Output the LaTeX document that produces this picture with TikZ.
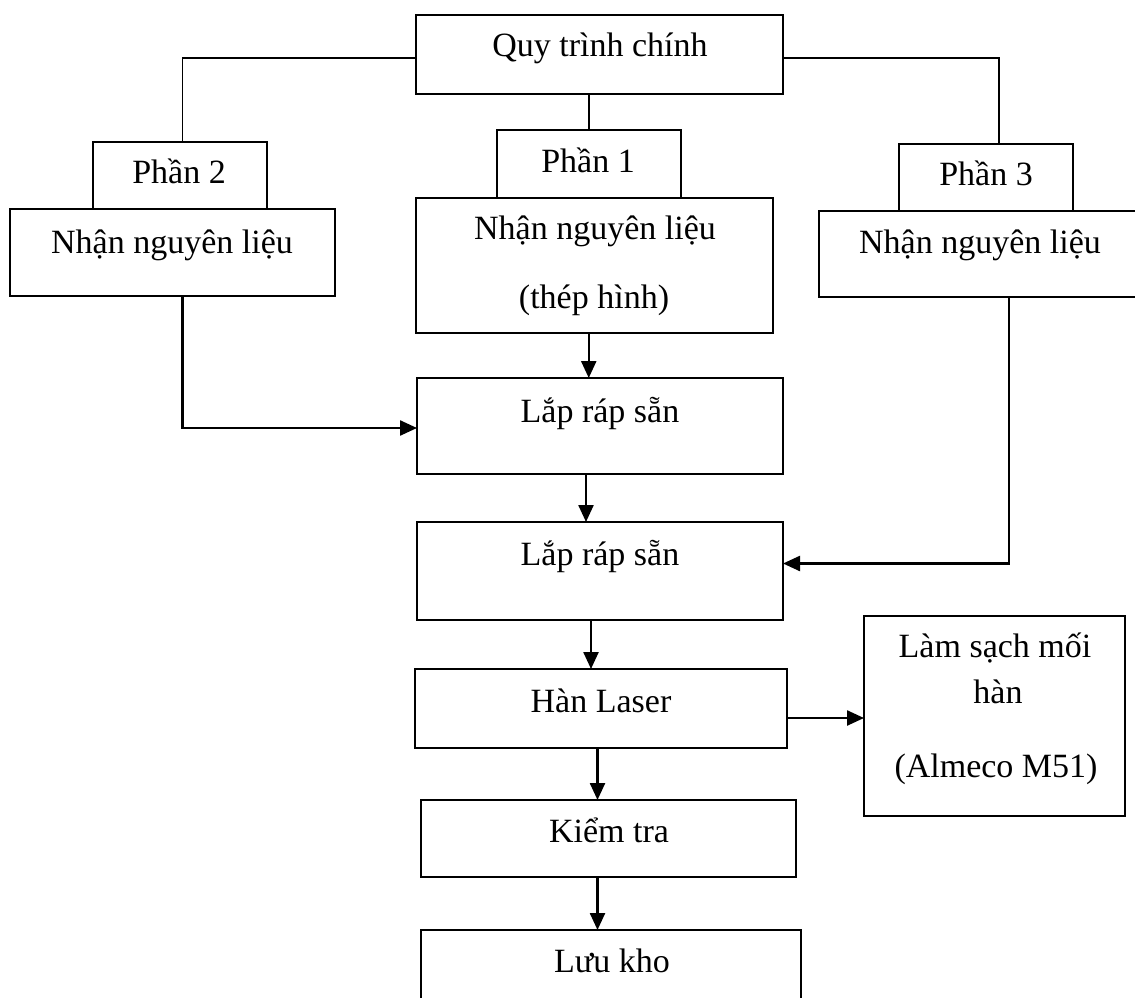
\documentclass[tikz,border=0pt]{standalone}
\usepackage{fontspec}
\setmainfont{Liberation Serif}
\usetikzlibrary{arrows.meta}
\begin{document}
\begin{tikzpicture}[x=1pt,y=-1pt,
  box/.style={draw, line width=2pt, inner sep=0pt, outer sep=0pt},
  txt/.style={anchor=base, inner sep=0pt, font=\fontsize{34}{40}\selectfont},
  link/.style={line width=1.5pt},
  arr/.style={line width=2.4pt, -{Triangle[length=17pt,width=15pt]}}]
\useasboundingbox (0,0) rectangle (1135,998);
\clip (0,0) rectangle (1135,998);
\fill[white] (0,0) rectangle (1135,998);

% boxes
\node[box, minimum width=367pt, minimum height=79pt] (quy) at (599.5,54.5) {};
\node[box, minimum width=174pt, minimum height=67pt] (p2) at (180,175.5) {};
\node[box, minimum width=325pt, minimum height=87pt] (nL) at (172.5,252.5) {};
\node[box, minimum width=184.5pt, minimum height=68pt] (p1) at (588.75,164) {};
\node[box, minimum width=357pt, minimum height=135pt] (nM) at (594.5,265.5) {};
\node[box, minimum width=174pt, minimum height=67pt] (p3) at (986,177.5) {};
\node[box, minimum width=326pt, minimum height=86pt] (nR) at (982,254) {};
\node[box, minimum width=366pt, minimum height=96pt] (lap1) at (600,426) {};
\node[box, minimum width=366pt, minimum height=98pt] (lap2) at (600,571) {};
\node[box, minimum width=372pt, minimum height=79pt] (han) at (601,708.5) {};
\node[box, minimum width=261pt, minimum height=200pt] (clean) at (994.5,716) {};
\node[box, minimum width=375pt, minimum height=77pt] (kiem) at (608.5,838.5) {};
\node[box, minimum width=380pt, minimum height=90pt] (luu) at (611,975) {};

% texts
\node[txt] at (600,57) {Quy trình chính};
\node[txt] at (179,183) {Phần 2};
\node[txt] at (172,253) {Nhận nguyên liệu};
\node[txt] at (588,172) {Phần 1};
\node[txt] at (595,239) {Nhận nguyên liệu};
\node[txt] at (594,308) {(thép hình)};
\node[txt] at (986,185) {Phần 3};
\node[txt] at (980,253) {Nhận nguyên liệu};
\node[txt] at (600,422) {Lắp ráp sẵn};
\node[txt] at (600,565) {Lắp ráp sẵn};
\node[txt] at (601,712) {Hàn Laser};
\node[txt] at (995,657) {Làm sạch mối};
\node[txt] at (998,703) {hàn};
\node[txt] at (996,777) {(Almeco M51)};
\node[txt] at (609,842) {Kiểm tra};
\node[txt] at (612,972) {Lưu kho};

% branches from the main process
\draw[link] ([yshift=-3.5pt]quy.west) -| ([xshift=2.5pt]p2.north);
\draw[link] ([yshift=-3.5pt]quy.east) -| ([xshift=13pt]p3.north);
\draw[link] (p1.north |- quy.south) -- (p1.north);

% flow arrows
\draw[arr] ([xshift=10pt]nL.south) |- ([yshift=-2pt]lap1.west);
\draw[arr] (p1.south |- nM.south) -- (p1.south |- lap1.north);
\draw[arr] ([xshift=-14pt]lap1.south) -- ([xshift=-14pt]lap2.north);
\draw[arr] ([xshift=27pt]nR.south) |- ([yshift=7.5pt]lap2.east);
\draw[arr] ([xshift=-9pt]lap2.south) -- ([xshift=-10pt]han.north);
\draw[arr] ([yshift=-9.5pt]han.east) -- ([yshift=-9.5pt]han.east -| clean.west);
\draw[arr] ([xshift=-3.5pt]han.south) -- ([xshift=-11pt]kiem.north);
\draw[arr] ([xshift=-11pt]kiem.south) -- ([xshift=-13.5pt]luu.north);
\end{tikzpicture}
\end{document}
